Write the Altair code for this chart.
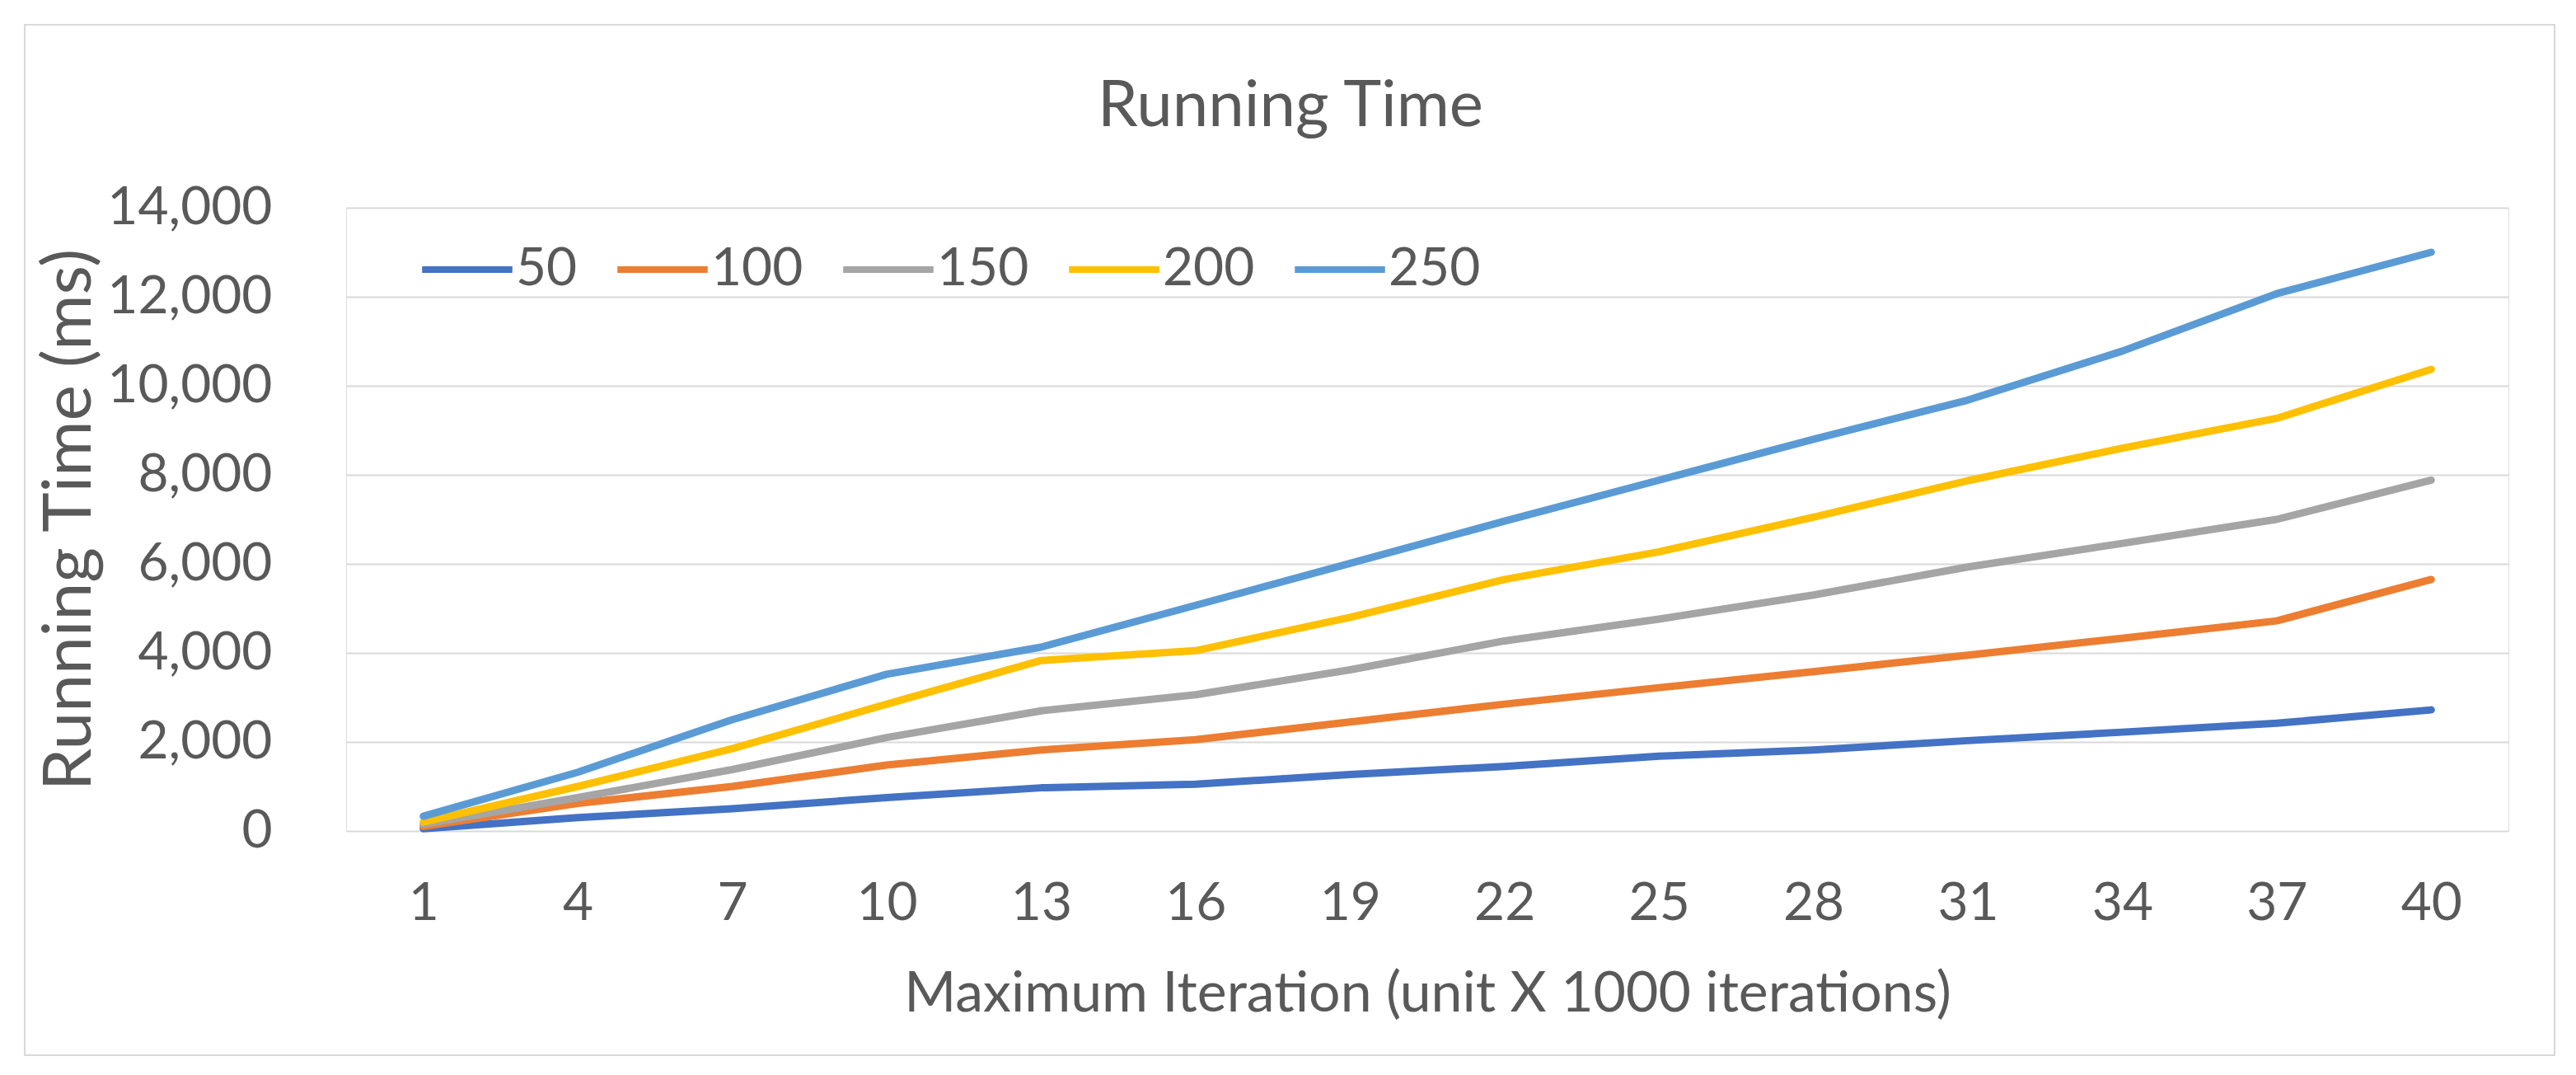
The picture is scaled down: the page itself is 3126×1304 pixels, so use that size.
import altair as alt
import pandas as pd

iterations = [1, 4, 7, 10, 13, 16, 19, 22, 25, 28, 31, 34, 37, 40]
series_names = ["50", "100", "150", "200", "250"]
s50 = [50, 300, 500, 750, 970, 1050, 1270, 1450, 1680, 1820, 2030, 2220, 2420, 2720]
s100 = [100, 620, 1000, 1480, 1820, 2050, 2450, 2850, 3220, 3580, 3950, 4330, 4720, 5650]
s150 = [150, 750, 1380, 2100, 2700, 3060, 3620, 4270, 4760, 5300, 5930, 6460, 7000, 7880]
s200 = [200, 1000, 1850, 2850, 3830, 4050, 4800, 5650, 6270, 7050, 7870, 8600, 9270, 10370]
s250 = [330, 1320, 2500, 3520, 4130, 5070, 6010, 6960, 7880, 8800, 9680, 10780, 12070, 13000]
colors = ["#4472C4", "#ED7D31", "#A5A5A5", "#FFC000", "#5B9BD5"]
y_ticks = [0, 2000, 4000, 6000, 8000, 10000, 12000, 14000]

rows = []
for name, vals in zip(series_names, [s50, s100, s150, s200, s250]):
    for it, v in zip(iterations, vals):
        rows.append({"iter": str(it), "series": name, "time": v})
df = pd.DataFrame(rows)

FONT = "Lato"
TEXT = "#595959"
W, H = 2624, 756
PL, PT = 412, 244

lines = alt.Chart(df).mark_line(strokeWidth=9, strokeCap="round", strokeJoin="round").encode(
    x=alt.X("iter:O", sort=[str(i) for i in iterations],
            scale=alt.Scale(type="point", padding=0.5),
            axis=alt.Axis(title="Maximum Iteration (unit X 1000 iterations)", labelAngle=0,
                          domain=False, ticks=False, grid=False,
                          labelFontSize=64, labelColor=TEXT, labelFont=FONT,
                          labelPadding=88, labelBaseline="middle",
                          titleFontSize=68, titleColor=TEXT, titleFont=FONT, titleFontWeight="normal",
                          titleY=198, titleBaseline="middle")),
    y=alt.Y("time:Q", scale=alt.Scale(domain=[0, 14000]),
            axis=alt.Axis(title="Running Time (ms)", values=y_ticks, format=",.0f", labelLimit=400,
                          domain=False, ticks=False, grid=True, gridColor="#D9D9D9", gridWidth=2,
                          labelFontSize=64, labelColor=TEXT, labelFont=FONT,
                          labelPadding=90, labelBaseline="middle",
                          titleFontSize=82, titleColor=TEXT, titleFont=FONT, titleFontWeight="normal",
                          titleX=-336, titleY=H / 2, titleAngle=-90,
                          titleAlign="center", titleBaseline="middle")),
    color=alt.Color("series:N", sort=series_names,
                    scale=alt.Scale(domain=series_names, range=colors),
                    legend=alt.Legend(title=None, orient="none", direction="horizontal",
                                      legendX=88, legendY=16,
                                      symbolType="stroke", symbolSize=12000, symbolStrokeWidth=8,
                                      labelFontSize=64, labelColor=TEXT, labelFont=FONT,
                                      labelOffset=0, columnPadding=32)),
)

frame = alt.Chart(pd.DataFrame({"v": [0]})).mark_rect(fill=None, stroke="#D9D9D9", strokeWidth=2).encode(
    x=alt.value(30 - 8 - PL), x2=alt.value(3100 - 8 - PL),
    y=alt.value(30 - 8 - PT), y2=alt.value(1280 - 8 - PT),
)

chart = alt.layer(frame, lines).properties(
    width=W, height=H,
    title=alt.TitleParams("Running Time", fontSize=78, color=TEXT, font=FONT, fontWeight="normal",
                          anchor="middle", frame="group", offset=0, baseline="alphabetic",
                          dx=-166, dy=202),
    autosize=alt.AutoSizeParams(type="none"),
    padding={"left": PL, "top": PT, "right": 74, "bottom": 288},
).configure_view(stroke=None).configure(background="white")

chart.save("out.html", embed_options={"renderer": "svg", "actions": False})
